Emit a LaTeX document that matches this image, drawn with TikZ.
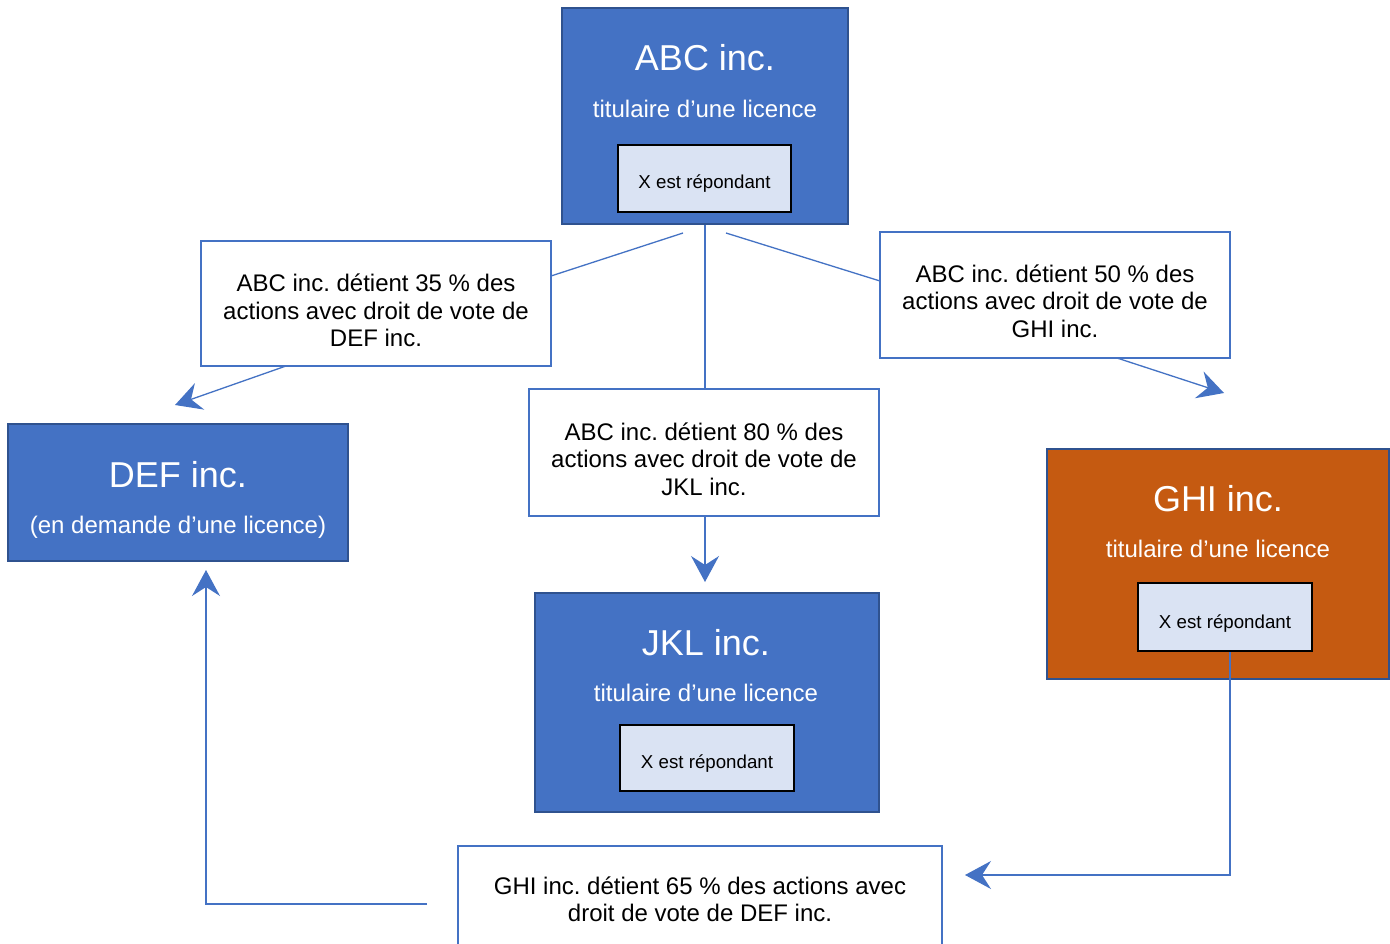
\documentclass[tikz,border=0pt]{standalone}
\usepackage{fontspec}
\setmainfont{Liberation Sans}
\usetikzlibrary{arrows.meta}
\frenchspacing
\definecolor{bfill}{HTML}{4472C4}
\definecolor{bdraw}{HTML}{2F528F}
\definecolor{ofill}{HTML}{C55A11}
\definecolor{ifill}{HTML}{DAE3F3}
\definecolor{conn}{HTML}{4472C4}
\tikzset{
  cobox/.style={draw=bdraw, line width=2.2pt, fill=bfill, inner sep=0pt},
  orbox/.style={draw=bdraw, line width=2.2pt, fill=ofill, inner sep=0pt},
  innerbox/.style={draw=black, line width=1.8pt, fill=ifill, inner sep=0pt},
  labbox/.style={draw=conn, line width=1.5pt, fill=white, inner sep=0pt},
  bigtxt/.style={text=white, font=\fontsize{36}{40}\selectfont, anchor=base, inner sep=0pt},
  midtxt/.style={text=white, font=\fontsize{24}{28}\selectfont, anchor=base, inner sep=0pt},
  smalltxt/.style={text=black, font=\fontsize{18.7}{22}\selectfont, anchor=base, inner sep=0pt},
  labtxt/.style={text=black, font=\fontsize{24}{27.5}\selectfont, align=center, inner sep=0pt},
  conline/.style={draw=conn, line width=1.3pt},
  arr/.style={conline, -{Stealth[length=26pt,width=28pt,inset=9pt]}}
}
\begin{document}
\begin{tikzpicture}[x=1pt,y=-1pt]
\useasboundingbox (0,0) rectangle (1390,944);
\fill[white] (0,0) rectangle (1390,944);

% ABC
\node[cobox, minimum width=286pt, minimum height=216pt] (abc) at (705,116) {};
\node[bigtxt] (abct) at (705,70.5) {ABC inc.};
\node[midtxt] (abcs) at (705,117.5) {titulaire d’une licence};
\node[innerbox, minimum width=173pt, minimum height=67pt] (abci) at (704.5,178.5) {};
\node[smalltxt] (abcx) at (704.5,189) {X est répondant};

% DEF
\node[cobox, minimum width=340pt, minimum height=137pt] (def) at (178,492.5) {};
\node[bigtxt] (deft) at (178,487) {DEF inc.};
\node[midtxt] (defs) at (178,533) {(en demande d’une licence)};

% JKL
\node[cobox, minimum width=344pt, minimum height=219pt] (jkl) at (707,702.5) {};
\node[bigtxt] (jklt) at (706,655) {JKL inc.};
\node[midtxt] (jkls) at (706,701) {titulaire d’une licence};
\node[innerbox, minimum width=174pt, minimum height=66pt] (jkli) at (707,758) {};
\node[smalltxt] (jklx) at (707,768) {X est répondant};

% GHI
\node[orbox, minimum width=342pt, minimum height=230pt] (ghi) at (1218,564) {};
\node[bigtxt] (ghit) at (1218,511) {GHI inc.};
\node[midtxt] (ghis) at (1218,557) {titulaire d’une licence};
\node[innerbox, minimum width=174pt, minimum height=68pt] (ghii) at (1225,617) {};
\node[smalltxt] (ghix) at (1225,628) {X est répondant};

% labels
\node[labbox, minimum width=350pt, minimum height=125pt] (l35) at (376,303.5) {};
\node[labtxt] (l35t) at (376,310.5) {ABC inc. détient 35 \% des\\actions avec droit de vote de\\DEF inc.};
\node[labbox, minimum width=350pt, minimum height=126pt] (l50) at (1055,295) {};
\node[labtxt] (l50t) at (1055,301) {ABC inc. détient 50 \% des\\actions avec droit de vote de\\GHI inc.};
\node[labbox, minimum width=350pt, minimum height=127pt] (l80) at (704,452.5) {};
\node[labtxt] (l80t) at (704,459) {ABC inc. détient 80 \% des\\actions avec droit de vote de\\JKL inc.};
\node[labbox, minimum width=484pt, minimum height=130pt, anchor=north] (l65) at (700,845) {};
\node[labtxt] (l65t) at (700,899.5) {GHI inc. détient 65 \% des actions avec\\droit de vote de DEF inc.};

% connector points
\coordinate (a1) at (683,233);
\coordinate (a2) at (726,233);
\coordinate (l35e) at (551,276);
\coordinate (l50w) at (880,281);
\coordinate (l35b) at (286,366);
\coordinate (defarr) at (175,405);
\coordinate (l50b) at (1117,358);
\coordinate (ghiarr) at (1224,393);
\coordinate (jklarr) at (705,582);
\coordinate (g1) at (1230,875);
\coordinate (l65arr) at (965,875);
\coordinate (l65w) at (427,904);
\coordinate (d1) at (206,904);
\coordinate (d2) at (206,570);

% connectors
\draw[conline] (abc.south) -- (abc.south |- l80.north);
\draw[arr] (jklarr |- l80.south) -- (jklarr);
\draw[conline] (a1) -- (l35e);
\draw[arr] (l35b) -- (defarr);
\draw[conline] (a2) -- (l50w);
\draw[arr] (l50b) -- (ghiarr);
\draw[arr] (ghii.south -| g1) -- (g1) -- (l65arr);
\draw[arr] (l65w) -- (d1) -- (d2);
\end{tikzpicture}
\end{document}
